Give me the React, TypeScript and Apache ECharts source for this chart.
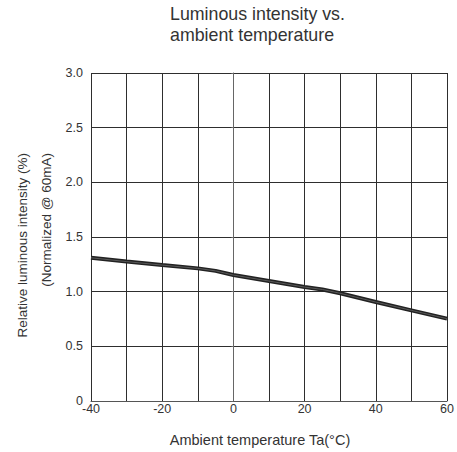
import React, { useEffect, useRef } from "react";
import * as echarts from "echarts";

const temperatures = [-40, -30, -20, -10, -5, 0, 10, 20, 25, 30, 40, 50, 60];
const intensity = [1.31, 1.275, 1.243, 1.213, 1.19, 1.152, 1.097, 1.042, 1.02, 0.985, 0.905, 0.829, 0.753];
const titleLines = ["Luminous intensity vs.", "ambient temperature"];
const yNameLines = ["Relative luminous intensity (%)", "(Normalized @ 60mA)"];
const xName = "Ambient temperature Ta(°C)";

const FONT = "Liberation Sans, Arial, sans-serif";
const TXT = "#333333";

export default function App() {
  const ref = useRef<HTMLDivElement>(null);
  useEffect(() => {
    if (!ref.current) return;
    const chart = echarts.init(ref.current, null, { renderer: "svg" });
    const pts = temperatures.map((t, i) => [t, intensity[i]]);
    chart.setOption({
      animation: false,
      backgroundColor: "#ffffff",
      textStyle: { fontFamily: FONT },
      grid: { left: 91, right: 10, top: 73, bottom: 51, containLabel: false, outerBoundsMode: "none" },
      xAxis: {
        type: "value",
        min: -40,
        max: 60,
        interval: 10,
        axisLine: { show: true, lineStyle: { color: "#555", width: 1 } },
        axisTick: { show: false },
        axisLabel: {
          color: TXT,
          fontSize: 12.5,
          fontFamily: FONT,
          margin: 1,
          showMinLabel: true,
          showMaxLabel: true,
          formatter: (v: number) => (v % 20 === 0 ? String(v) : ""),
        },
        splitLine: { show: true, lineStyle: { color: "#2e2e2e", width: 1 } },
      },
      yAxis: {
        type: "value",
        min: 0,
        max: 3,
        interval: 0.5,
        axisLine: { show: true, lineStyle: { color: "#666", width: 1 } },
        axisTick: { show: true, length: 2, lineStyle: { color: "#666" } },
        axisLabel: {
          color: TXT,
          fontSize: 12.5,
          fontFamily: FONT,
          margin: 8,
          formatter: (v: number) => (v === 0 ? "0" : v.toFixed(1)),
        },
        splitLine: { show: true, lineStyle: { color: "#2e2e2e", width: 1 } },
      },
      graphic: [
        {
          type: "text",
          x: 170,
          y: 14,
          style: { text: titleLines[0], fill: TXT, font: `17.8px ${FONT}`, textAlign: "left", textVerticalAlign: "middle" },
        },
        {
          type: "text",
          x: 170,
          y: 35,
          style: { text: titleLines[1], fill: TXT, font: `17.8px ${FONT}`, textAlign: "left", textVerticalAlign: "middle" },
        },
        {
          type: "text",
          x: 260,
          y: 440,
          style: { text: xName, fill: TXT, font: `14.5px ${FONT}`, textAlign: "center", textVerticalAlign: "middle" },
        },
        {
          type: "text",
          x: 22,
          y: 153,
          rotation: Math.PI / 2,
          style: { text: yNameLines[0], fill: TXT, font: `13.5px ${FONT}`, textAlign: "right", textVerticalAlign: "middle" },
        },
        {
          type: "text",
          x: 46,
          y: 153,
          rotation: Math.PI / 2,
          style: { text: yNameLines[1], fill: TXT, font: `13.5px ${FONT}`, textAlign: "right", textVerticalAlign: "middle" },
        },
      ],
      series: [
        {
          type: "line",
          data: pts,
          showSymbol: false,
          symbol: "none",
          lineStyle: { color: "#222222", width: 4 },
          z: 3,
        },
        {
          type: "line",
          data: pts,
          showSymbol: false,
          symbol: "none",
          lineStyle: { color: "#5a5a5a", width: 1 },
          z: 4,
        },
      ],
    });
    return () => chart.dispose();
  }, []);
  return (
    <div
      ref={ref}
      style={{ position: "fixed", left: 0, top: 0, width: 457, height: 452 }}
    />
  );
}
